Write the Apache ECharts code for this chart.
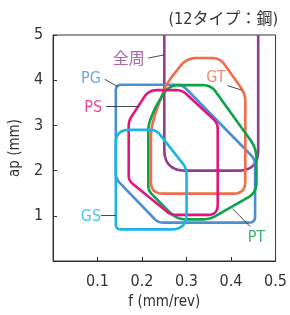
<!DOCTYPE html>
<html>
<head>
<meta charset="utf-8">
<script src="https://cdn.jsdelivr.net/npm/echarts@6/dist/echarts.min.js"></script>
<style>html,body{margin:0;padding:0;background:#fff}#c{width:290px;height:315px}</style>
</head>
<body>
<div id="c"></div>
<script>
// ---- data (f in mm/rev, ap in mm) ----
const X_TICKS = ['0.1', '0.2', '0.3', '0.4', '0.5'];
const Y_TICKS = ['1', '2', '3', '4', '5'];
const ZENSHU = [[0.25, 5.0], [0.25, 2.0], [0.461, 2.0], [0.461, 5.0]];
const PG = [[0.141, 3.9], [0.29, 3.9], [0.454, 2.25], [0.454, 0.85], [0.236, 0.85], [0.141, 1.82]];
const GT = [[0.22, 1.49], [0.22, 2.88], [0.228, 3.22], [0.254, 3.91], [0.30, 4.49], [0.375, 4.49], [0.432, 3.7], [0.432, 1.49]];
const PT = [[0.26, 3.89], [0.355, 3.89], [0.457, 2.49], [0.457, 1.51], [0.352, 0.92], [0.278, 0.92], [0.214, 1.56], [0.214, 3.0], [0.228, 3.37]];
const PS = [[0.215, 3.78], [0.29, 3.78], [0.37, 3.05], [0.37, 1.02], [0.265, 1.02], [0.170, 1.78], [0.170, 3.1]];
const GS = [[0.141, 2.9], [0.232, 2.9], [0.30, 2.05], [0.30, 0.70], [0.141, 0.70]];
const LABEL_TEXT = ['全周', 'PG', 'PS', 'GT', 'GS', 'PT'];
const LABEL_POS = [[0.17, 4.46], [0.085, 4.02], [0.09, 3.38], [0.366, 4.06], [0.085, 0.98], [0.457, 0.51]];
const LEADERS = [
  [[0.214, 4.49], [0.25, 4.56]],
  [[0.116, 4.02], [0.145, 3.86]],
  [[0.119, 3.42], [0.192, 3.42]],
  [[0.392, 3.88], [0.424, 3.78]],
  [[0.108, 1.01], [0.141, 1.01]],
  [[0.403, 1.16], [0.443, 0.76]]
];
const TITLE = '(12タイプ：鋼)';
const X_NAME = 'f (mm/rev)';
const Y_NAME = 'ap (mm)';

// ---- styles ----
const C = { zenshu: '#923d91', pg: '#4b8fd0', gt: '#f26c4c', pt: '#0aa24a', ps: '#e4147f', gs: '#1ab4e8' };
const LABEL_COLORS = [C.zenshu, C.pg, C.ps, C.gt, C.gs, C.pt];
const R = {
  zenshu: [0, 21, 20, 0],
  pg: [6, 6, 6, 6, 5, 5],
  gt: [12, 6, 8, 10, 10, 8, 8, 12],
  pt: [10, 8, 10, 10, 8, 10, 5, 6, 8],
  ps: [8, 6, 6, 10, 5, 5, 5],
  gs: [13, 6, 6, 15, 5]
};
const FONT = "'Liberation Sans Narrow','DejaVu Sans Condensed','Noto Sans CJK JP',sans-serif";
const LW = 2.6;

function roundCorners(px, radii, closed) {
  const n = px.length, out = [];
  for (let i = 0; i < n; i++) {
    const cur = px[i];
    if (!closed && (i === 0 || i === n - 1)) { out.push(cur); continue; }
    const prev = px[(i - 1 + n) % n], next = px[(i + 1) % n];
    const r = radii[i] || 0;
    if (r <= 0) { out.push(cur); continue; }
    const d1 = Math.hypot(prev[0] - cur[0], prev[1] - cur[1]);
    const d2 = Math.hypot(next[0] - cur[0], next[1] - cur[1]);
    const r1 = Math.min(r, d1 / 2), r2 = Math.min(r, d2 / 2);
    const a = [cur[0] + (prev[0] - cur[0]) * r1 / d1, cur[1] + (prev[1] - cur[1]) * r1 / d1];
    const b = [cur[0] + (next[0] - cur[0]) * r2 / d2, cur[1] + (next[1] - cur[1]) * r2 / d2];
    const steps = 10;
    for (let s = 0; s <= steps; s++) {
      const t = s / steps;
      out.push([
        (1 - t) * (1 - t) * a[0] + 2 * t * (1 - t) * cur[0] + t * t * b[0],
        (1 - t) * (1 - t) * a[1] + 2 * t * (1 - t) * cur[1] + t * t * b[1]
      ]);
    }
  }
  return out;
}

function shapeSeries(name, pts, radii, color, closed, z) {
  return {
    type: 'custom', name: name, data: pts, encode: { x: 0, y: 1 }, z: z, silent: true,
    renderItem: function (params, api) {
      if (params.dataIndex !== 0) return null;
      const px = pts.map(p => api.coord(p));
      return {
        type: closed ? 'polygon' : 'polyline',
        shape: { points: roundCorners(px, radii, closed) },
        style: { fill: 'none', stroke: color, lineWidth: LW, lineJoin: 'round', lineCap: 'butt' }
      };
    }
  };
}

const chart = echarts.init(document.getElementById('c'), null, { renderer: 'canvas' });
chart.setOption({
  animation: false,
  backgroundColor: '#fff',
  title: {
    text: TITLE, right: 12, top: 12, padding: 0,
    textStyle: { fontFamily: FONT, fontSize: 16, fontWeight: 'normal', color: '#333' }
  },
  grid: { left: 48, right: 12, top: 35, bottom: 50, show: true, borderColor: '#333', borderWidth: 1, backgroundColor: 'transparent' },
  xAxis: {
    type: 'value', min: 0, max: 0.5, interval: 0.1,
    name: X_NAME, nameLocation: 'middle', nameGap: 34,
    nameTextStyle: { fontFamily: FONT, fontSize: 15, color: '#333' },
    axisLine: { lineStyle: { color: '#333', width: 1 } },
    axisTick: { inside: true, length: 4, lineStyle: { color: '#333' } },
    splitLine: { show: false },
    axisLabel: {
      showMinLabel: false, margin: 13, fontFamily: FONT, fontSize: 16, color: '#333',
      formatter: v => X_TICKS[Math.round(v * 10) - 1] || ''
    }
  },
  yAxis: {
    type: 'value', min: 0, max: 5, interval: 1,
    name: Y_NAME, nameLocation: 'middle', nameGap: 30, nameRotate: 90,
    nameTextStyle: { fontFamily: FONT, fontSize: 15, color: '#333' },
    axisLine: { show: true, lineStyle: { color: '#333', width: 1 } },
    axisTick: { show: true, inside: true, length: 4, lineStyle: { color: '#333' } },
    splitLine: { show: false },
    axisLabel: {
      showMinLabel: false, margin: 10, fontFamily: FONT, fontSize: 16, color: '#333',
      formatter: v => Y_TICKS[Math.round(v) - 1] || ''
    }
  },
  series: [
    shapeSeries('全周', ZENSHU, R.zenshu, C.zenshu, false, 2),
    shapeSeries('PG', PG, R.pg, C.pg, true, 3),
    shapeSeries('GT', GT, R.gt, C.gt, true, 4),
    shapeSeries('PT', PT, R.pt, C.pt, true, 5),
    shapeSeries('PS', PS, R.ps, C.ps, true, 6),
    shapeSeries('GS', GS, R.gs, C.gs, true, 7),
    {
      type: 'lines', coordinateSystem: 'cartesian2d', polyline: false, silent: true, z: 8,
      lineStyle: { color: '#333', width: 0.9, opacity: 1 },
      data: LEADERS.map(c => ({ coords: c }))
    },
    {
      type: 'scatter', symbolSize: 1, silent: true, z: 9,
      itemStyle: { color: 'transparent' },
      data: LABEL_TEXT.map((t, i) => ({
        value: [LABEL_POS[i][0], LABEL_POS[i][1]],
        label: {
          show: true, position: 'inside', formatter: t,
          fontFamily: FONT, fontSize: 16, color: LABEL_COLORS[i]
        }
      }))
    }
  ]
});
</script>
</body>
</html>
